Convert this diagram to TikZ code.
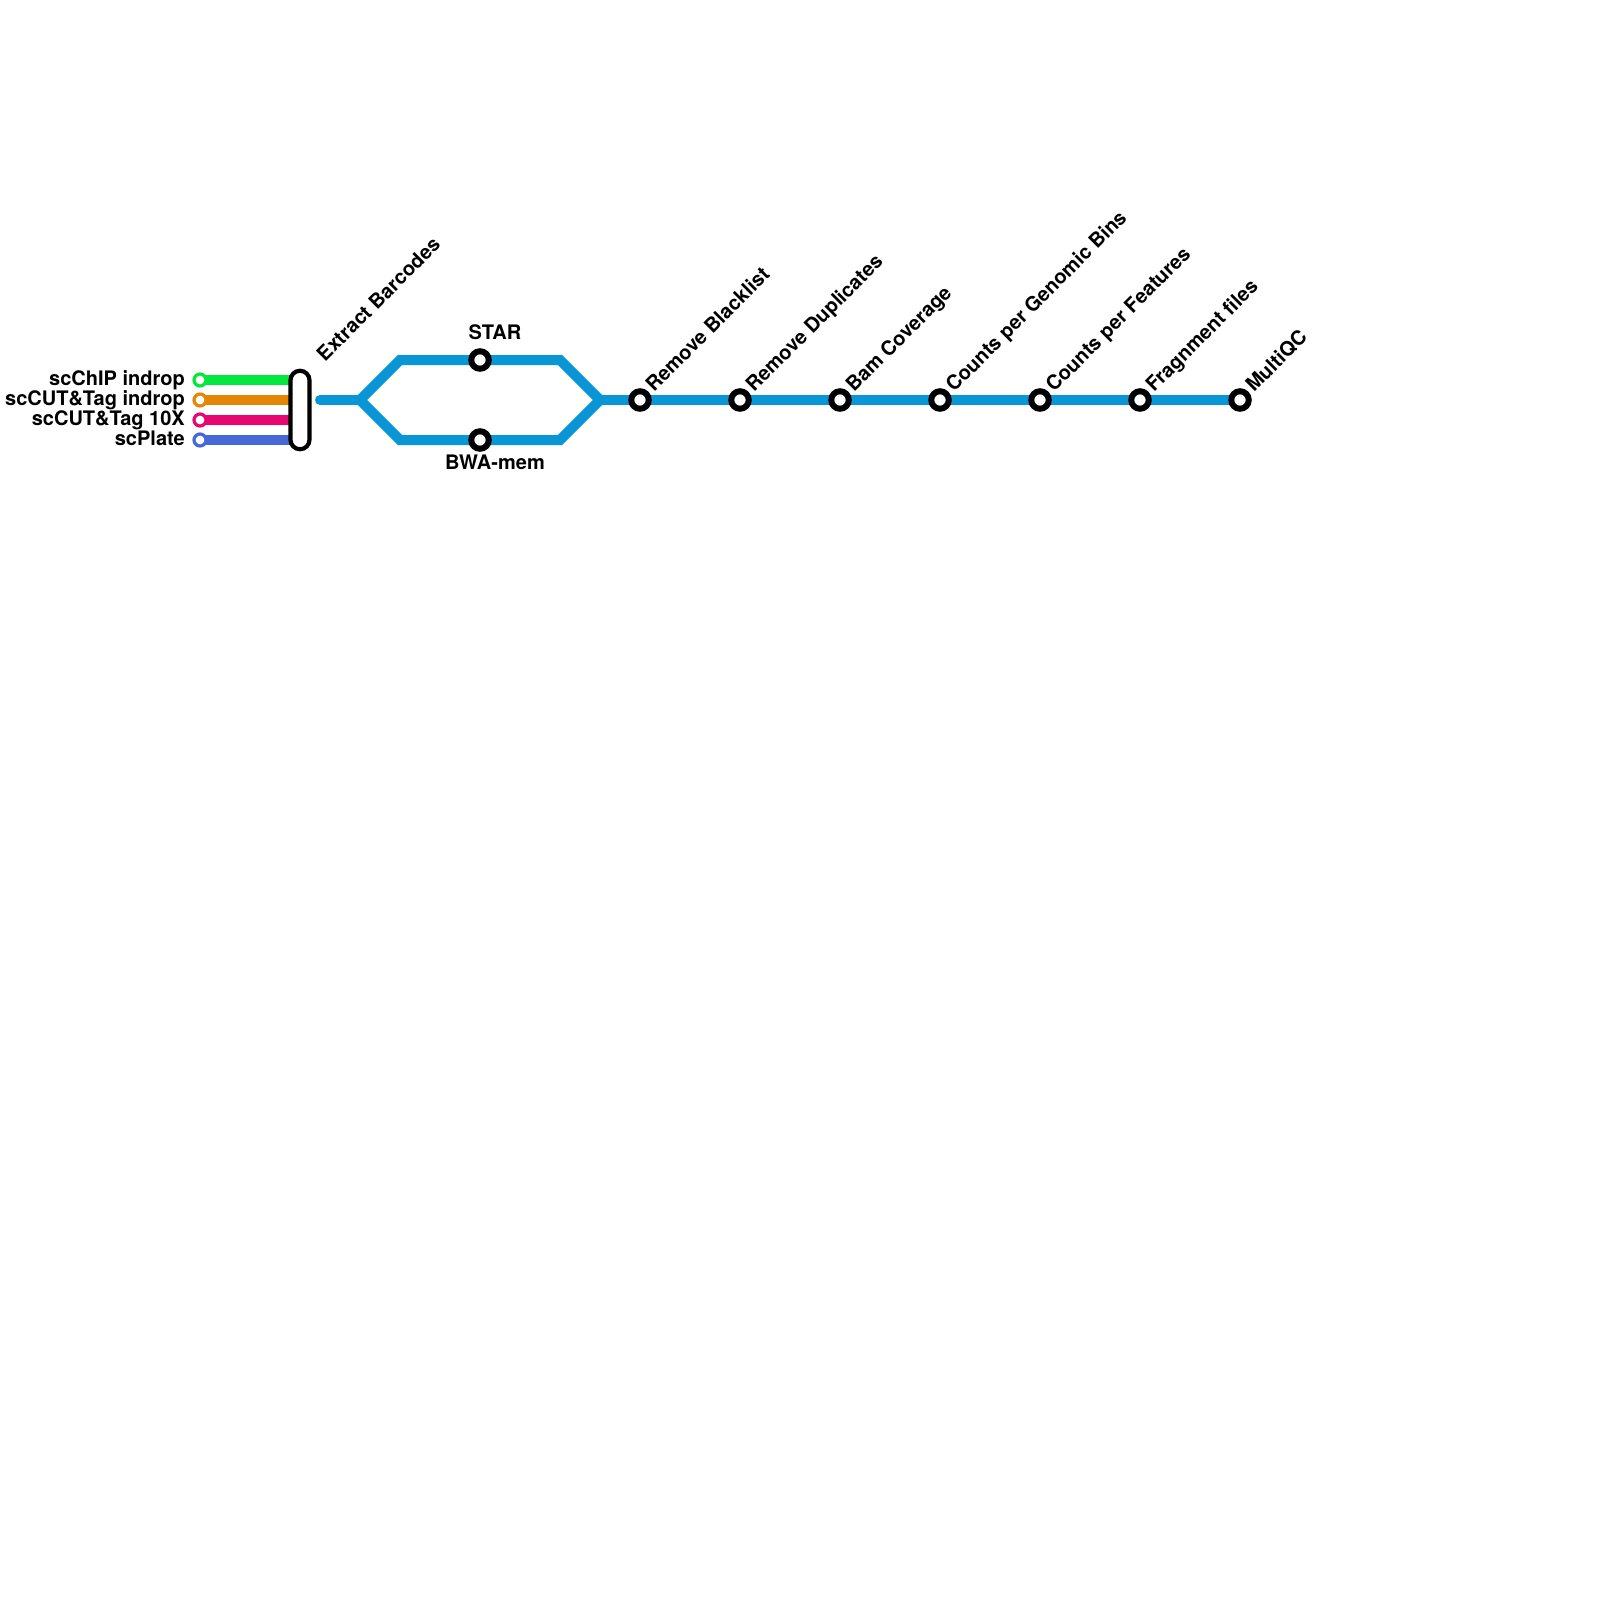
\documentclass[tikz,border=0pt]{standalone}
\usepackage{fontspec}
\setmainfont{TeX Gyre Heros}
\usetikzlibrary{backgrounds}
\definecolor{lblue}{HTML}{0896D6}
\definecolor{lgreen}{HTML}{02E83C}
\definecolor{lorange}{HTML}{E58606}
\definecolor{lpink}{HTML}{E80670}
\definecolor{lindigo}{HTML}{4668D8}
\tikzset{
  lbl/.style={font=\fontsize{20}{22}\selectfont\bfseries, text=black, inner sep=0pt},
  rl/.style={lbl,anchor=base west,rotate=45},
  station/.style={circle, draw=black, line width=6pt, fill=white, minimum size=17.5pt, inner sep=0pt},
  srcl/.style={circle, line width=3.2pt, fill=white, minimum size=12pt, inner sep=0pt},
  srcline/.style={line width=10pt},
  metro/.style={line width=10pt, draw=lblue, line join=miter},
}
\begin{document}
\begin{tikzpicture}[x=1pt,y=-1pt]
\useasboundingbox (0,0) rectangle (1600,1600);
% coordinates
\coordinate (start) at (320,400);
\coordinate (split) at (360,400);
\coordinate (ua) at (400,360);
\coordinate (ub) at (560,360);
\coordinate (la) at (400,440);
\coordinate (lb) at (560,440);
\coordinate (merge) at (600,400);
\coordinate (e1) at (296,380);
\coordinate (e2) at (296,400);
\coordinate (e3) at (296,420);
\coordinate (e4) at (296,440);
% nodes
\node[srcl,draw=lgreen] (s1) at (200,380) {};
\node[srcl,draw=lorange] (s2) at (200,400) {};
\node[srcl,draw=lpink] (s3) at (200,420) {};
\node[srcl,draw=lindigo] (s4) at (200,440) {};
\node[station] (star) at (480,360) {};
\node[station] (bwa) at (480,440) {};
\node[station] (n1) at (640,400) {};
\node[station] (n2) at (740,400) {};
\node[station] (n3) at (840,400) {};
\node[station] (n4) at (940,400) {};
\node[station] (n5) at (1040,400) {};
\node[station] (n6) at (1140,400) {};
\node[station] (n7) at (1240,400) {};
\node[draw=black,fill=white,line width=4.2pt,rounded corners=9.5pt,minimum width=19pt,minimum height=78.5pt,inner sep=0pt] (bar) at (300,410) {};
% connectors
\begin{pgfonlayer}{background}
\fill[white] (0,0) rectangle (1600,1600);
\draw[srcline,lgreen] (s1.center) -- (e1);
\draw[srcline,lorange] (s2.center) -- (e2);
\draw[srcline,lpink] (s3.center) -- (e3);
\draw[srcline,lindigo] (s4.center) -- (e4);
\draw[metro,line cap=round] (start) -- (split);
\draw[metro] (split) -- (ua) -- (ub) -- (merge) -- (lb) -- (la) -- cycle;
\draw[metro] (merge) -- (n7.center);
\end{pgfonlayer}
% labels
\node[lbl,anchor=base east] (t1) at (185,385.5) {scChIP indrop};
\node[lbl,anchor=base east] (t2) at (185,405.5) {scCUT\&Tag indrop};
\node[lbl,anchor=base east] (t3) at (185,425.5) {scCUT\&Tag 10X};
\node[lbl,anchor=base east] (t4) at (185,445.5) {scPlate};
\node[lbl,anchor=base] (tstar) at (495,339.5) {STAR};
\node[lbl,anchor=base] (tbwa) at (495,469.5) {BWA-mem};
\node[rl] (tb) at (325,362.5) {Extract Barcodes};
\node[rl] (l1) at (654,393) {Remove Blacklist};
\node[rl] (l2) at (754,393) {Remove Duplicates};
\node[rl] (l3) at (854,393) {Bam Coverage};
\node[rl] (l4) at (954,393) {Counts per Genomic Bins};
\node[rl] (l5) at (1054,393) {Counts per Features};
\node[rl] (l6) at (1154,393) {Fragnment files};
\node[rl] (l7) at (1254,393) {MultiQC};
\end{tikzpicture}
\end{document}
